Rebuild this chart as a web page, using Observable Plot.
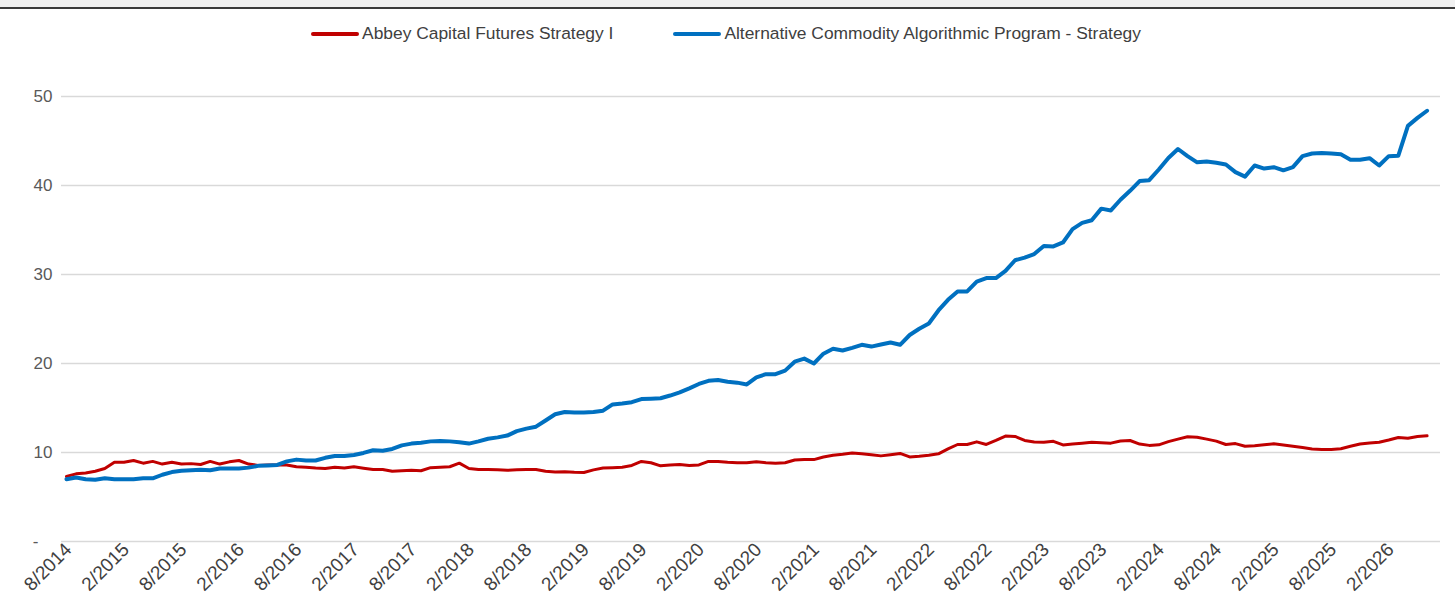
<!DOCTYPE html>
<html><head><meta charset="utf-8">
<script src="https://cdn.jsdelivr.net/npm/d3@7"></script>
<script src="https://cdn.jsdelivr.net/npm/@observablehq/plot@0.6"></script>
<style>
body{margin:0;background:#fff;font-family:"Liberation Sans",Arial,sans-serif;width:1455px;overflow:hidden;}
#topbar{height:7px;background:#f0f0f0;border-bottom:2px solid #3a3a3a;}
#legend{height:33px;padding-top:8px;display:flex;justify-content:center;align-items:center;gap:60px;font-size:17.4px;color:#404040;padding-right:3px;}
.item{display:flex;align-items:center;}
.sw{width:48px;height:4px;margin-right:3px;border-radius:2px}
#chart svg{display:block}
</style></head><body>
<div id="topbar"></div><div id="legend"></div><div id="chart"></div>
<script>
const seriesNames = ["Abbey Capital Futures Strategy I", "Alternative Commodity Algorithmic Program - Strategy"];
const seriesColors = ["#C00000", "#0070C0"];
// monthly values, 8/2014 onward
const abbey = [7.3,7.6,7.7,7.9,8.2,8.9,8.9,9.1,8.8,9.0,8.7,8.9,8.7,8.75,8.65,9.0,8.7,8.95,9.1,8.7,8.55,8.6,8.6,8.6,8.4,
 8.35,8.25,8.2,8.35,8.25,8.4,8.24,8.1,8.1,7.9,7.95,8.0,7.95,8.3,8.35,8.4,8.8,8.2,8.1,8.1,8.05,8.0,8.05,8.1,8.1,7.9,
 7.8,7.85,7.78,7.75,8.05,8.25,8.3,8.35,8.55,9.0,8.85,8.5,8.6,8.65,8.55,8.6,9.0,9.0,8.9,8.85,8.85,8.95,8.85,8.8,8.85,9.15,9.2,
 9.2,9.5,9.7,9.8,9.95,9.85,9.75,9.62,9.75,9.9,9.5,9.58,9.7,9.85,10.4,10.9,10.9,11.2,10.9,11.35,11.85,11.8,11.35,11.18,11.16,11.26,10.85,
 10.95,11.05,11.15,11.1,11.05,11.3,11.35,10.95,10.8,10.86,11.22,11.5,11.77,11.72,11.5,11.28,10.9,11.0,10.7,10.77,10.87,10.98,10.85,10.7,10.55,10.4,10.35,10.34,10.42,10.7,10.95,11.07,11.15,11.4,11.68,11.6,11.8,11.87];
const acap = [7.0,7.2,7.0,6.95,7.1,7.0,7.0,7.0,7.1,7.1,7.5,7.8,7.95,8.0,8.05,8.0,8.2,8.2,8.2,8.3,8.5,8.55,8.6,9.0,9.2,
 9.1,9.1,9.4,9.6,9.6,9.72,9.95,10.25,10.2,10.4,10.8,11.0,11.1,11.25,11.3,11.25,11.15,11.0,11.25,11.55,11.7,11.9,12.4,12.68,12.9,13.6,
 14.3,14.55,14.5,14.5,14.55,14.7,15.4,15.5,15.65,16.0,16.05,16.1,16.4,16.75,17.2,17.7,18.05,18.15,17.95,17.85,17.65,18.45,18.8,18.8,19.2,20.2,
 20.55,20.0,21.1,21.65,21.46,21.76,22.1,21.9,22.13,22.36,22.1,23.2,23.9,24.5,25.96,27.15,28.1,28.1,29.2,29.6,29.6,30.4,31.6,31.9,32.3,33.2,33.15,33.6,
 35.1,35.8,36.1,37.4,37.2,38.4,39.4,40.5,40.6,41.8,43.1,44.1,43.3,42.6,42.7,42.55,42.36,41.5,41.0,42.25,41.9,42.06,41.7,42.06,43.3,43.6,43.65,43.6,43.5,42.9,42.9,43.07,42.25,43.3,43.35,46.7,47.6,48.4];
const xTickLabels = ["8/2014","2/2015","8/2015","2/2016","8/2016","2/2017","8/2017","2/2018","8/2018","2/2019","8/2019","2/2020",
 "8/2020","2/2021","8/2021","2/2022","8/2022","2/2023","8/2023","2/2024","8/2024","2/2025","8/2025","2/2026"];
const yTicks = [0,10,20,30,40,50];

// legend
const leg = document.getElementById("legend");
seriesNames.forEach((n,k)=>{
  const it=document.createElement("div");it.className="item";
  const sw=document.createElement("div");sw.className="sw";sw.style.background=seriesColors[k];
  const t=document.createElement("span");t.textContent=n;
  it.appendChild(sw);it.appendChild(t);leg.appendChild(it);
});

const toRows = (arr, s) => arr.map((v,i)=>({i, v, s}));
const rowsA = toRows(abbey, seriesNames[0]);
const rowsB = toRows(acap, seriesNames[1]);
const tickIdx = xTickLabels.map((_,k)=>k*6);

const chart = Plot.plot({
  width:1455, height:555, marginLeft:61, marginRight:15, marginTop:46, marginBottom:64,
  style:{fontFamily:'"Liberation Sans", Arial, sans-serif', background:"#fff"},
  x:{domain:[-0.52,143.4], axis:null},
  y:{domain:[0,50], axis:null},
  color:{domain:seriesNames, range:seriesColors},
  marks:[
    Plot.ruleY(yTicks,{stroke:"#d9d9d9", strokeWidth:1.3}),
    Plot.axisY(yTicks,{tickSize:0, tickPadding:9, fontSize:17, color:"#595959", label:null,
      tickFormat:d=> d===0 ? "-\u00a0\u00a0\u00a0" : String(d)}),
    Plot.axisX(tickIdx,{tickSize:0, tickRotate:-45, tickPadding:5, dx:2, fontSize:19, color:"#404040", label:null,
      tickFormat:i=>xTickLabels[Math.round(i/6)]}),
    Plot.line(rowsA,{x:"i", y:"v", stroke:"s", strokeWidth:3, strokeLinejoin:"round"}),
    Plot.line(rowsB,{x:"i", y:"v", stroke:"s", strokeWidth:4, strokeLinejoin:"round"})
  ]
});
document.getElementById("chart").appendChild(chart);
</script>
</body></html>
